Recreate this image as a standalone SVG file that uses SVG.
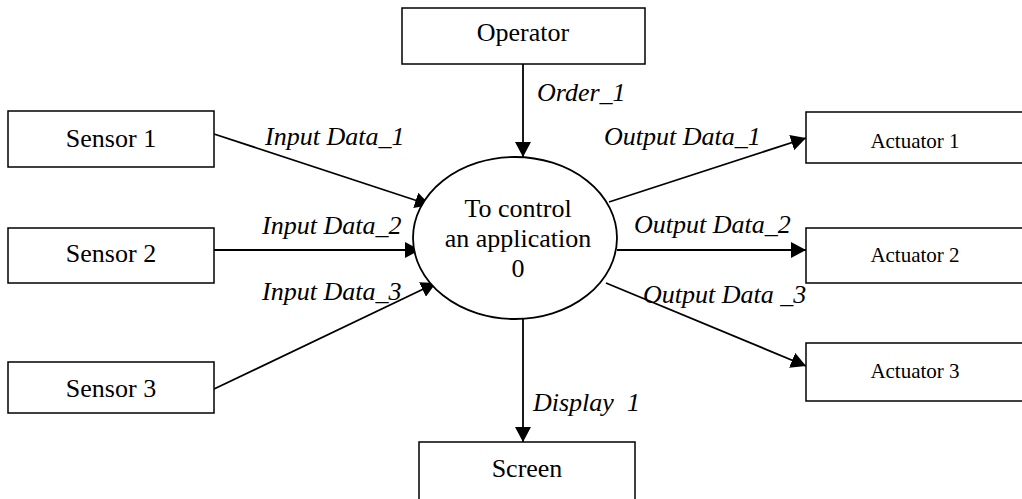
<svg xmlns="http://www.w3.org/2000/svg" width="1022" height="499" viewBox="0 0 1022 499">
<defs>
<marker id="ah" markerUnits="userSpaceOnUse" markerWidth="16" markerHeight="16" refX="15" refY="8" orient="auto">
<path d="M0,0 L15,8 L0,16 Z" fill="#000"/>
</marker>
</defs>
<style>
.box{fill:#fff;stroke:#000;stroke-width:1.5}
.t{font-family:"Liberation Serif","Times New Roman",serif;font-size:26px;fill:#000;text-anchor:middle}
.ta{font-family:"Liberation Serif","Times New Roman",serif;font-size:21px;fill:#000;text-anchor:middle}
.lab{font-family:"Liberation Serif","Times New Roman",serif;font-size:26px;font-style:italic;fill:#000;white-space:pre}
.c{fill:none;stroke:#000;stroke-width:1.8;marker-end:url(#ah)}
</style>
<rect width="1022" height="499" fill="#fff"/>
<g id="connectors">
<line class="c" x1="523" y1="64" x2="523" y2="157"/>
<line class="c" x1="214" y1="134" x2="430" y2="205"/>
<line class="c" x1="214" y1="250" x2="420" y2="250"/>
<line class="c" x1="214" y1="389" x2="436" y2="283"/>
<line class="c" x1="609" y1="202" x2="806" y2="138"/>
<line class="c" x1="617" y1="250" x2="806" y2="250"/>
<line class="c" x1="606" y1="283" x2="806" y2="366"/>
<line class="c" x1="523" y1="319" x2="523" y2="442"/>
<text class="lab" x="537" y="101">Order_1</text>
<text class="lab" x="265" y="145">Input Data_1</text>
<text class="lab" x="262" y="234">Input Data_2</text>
<text class="lab" x="262" y="300">Input Data_3</text>
<text class="lab" x="604" y="145">Output Data_1</text>
<text class="lab" x="634" y="233">Output Data_2</text>
<text class="lab" x="643" y="303">Output Data _3</text>
<text class="lab" x="533" y="411">Display  1</text>
</g>
<g id="operator"><rect class="box" x="402" y="8" width="243" height="56"/><text class="t" x="523" y="41">Operator</text></g>
<g id="sensor1"><rect class="box" x="8" y="111" width="206" height="56"/><text class="t" x="111" y="147">Sensor 1</text></g>
<g id="sensor2"><rect class="box" x="8" y="228" width="206" height="55"/><text class="t" x="111" y="262">Sensor 2</text></g>
<g id="sensor3"><rect class="box" x="8" y="362" width="206" height="51"/><text class="t" x="111" y="397">Sensor 3</text></g>
<g id="process"><ellipse cx="515" cy="238" rx="102" ry="81" fill="#fff" stroke="#000" stroke-width="1.8"/>
<text class="t" x="518" y="217">To control</text>
<text class="t" x="518" y="247">an application</text>
<text class="t" x="518" y="277">0</text></g>
<g id="actuator1"><rect class="box" x="806" y="112" width="230" height="51"/><text class="ta" x="915" y="148">Actuator 1</text></g>
<g id="actuator2"><rect class="box" x="806" y="228" width="230" height="55"/><text class="ta" x="915" y="262">Actuator 2</text></g>
<g id="actuator3"><rect class="box" x="806" y="343" width="230" height="58"/><text class="ta" x="915" y="378">Actuator 3</text></g>
<g id="screen"><rect class="box" x="419" y="442" width="216" height="70"/><text class="t" x="527" y="477">Screen</text></g>
</svg>
